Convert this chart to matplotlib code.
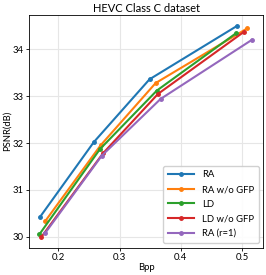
import matplotlib.pyplot as plt

plt.rcParams['font.family'] = ['Lato', 'DejaVu Sans']

# data
labels = ['RA', 'RA w/o GFP', 'LD', 'LD w/o GFP', 'RA (r=1)']
bpp_ra = [0.170, 0.258, 0.349, 0.492]
psnr_ra = [30.42, 32.02, 33.36, 34.50]
bpp_ra_nogfp = [0.179, 0.269, 0.359, 0.509]
psnr_ra_nogfp = [30.34, 31.95, 33.28, 34.45]
bpp_ld = [0.169, 0.268, 0.361, 0.490]
psnr_ld = [30.05, 31.87, 33.12, 34.34]
bpp_ld_nogfp = [0.172, 0.273, 0.363, 0.504]
psnr_ld_nogfp = [29.99, 31.78, 33.05, 34.38]
bpp_r1 = [0.178, 0.271, 0.367, 0.516]
psnr_r1 = [30.07, 31.73, 32.94, 34.20]

xs = [bpp_ra, bpp_ra_nogfp, bpp_ld, bpp_ld_nogfp, bpp_r1]
ys = [psnr_ra, psnr_ra_nogfp, psnr_ld, psnr_ld_nogfp, psnr_r1]
colors = ['#1f77b4', '#ff7f0e', '#2ca02c', '#d62728', '#9467bd']

fig = plt.figure(figsize=(2.66, 2.75), dpi=100)
ax = fig.add_axes([0.11, 0.10, 0.88, 0.845])

for x, y, c, lab in zip(xs, ys, colors, labels):
    ax.plot(x, y, '-o', color=c, lw=1.5, ms=2.5, label=lab)

ax.set_xlim(0.1525, 0.535)
ax.set_ylim(29.77, 34.73)
ax.set_xticks([0.2, 0.3, 0.4, 0.5])
ax.set_yticks([30, 31, 32, 33, 34])
ax.grid(True, color='#e6e6e6', lw=0.8)
ax.tick_params(labelsize=6.8, length=2.5, width=0.6, pad=1.5)
for s in ax.spines.values():
    s.set_linewidth(0.6)

ax.set_title('HEVC Class C dataset', fontsize=8, pad=2)
ax.set_xlabel('Bpp', fontsize=6.8, labelpad=1)
ax.set_ylabel('PSNR(dB)', fontsize=6.8, labelpad=1)
ax.legend(loc='lower right', fontsize=6.8, handlelength=2.8, borderpad=0.5,
          labelspacing=0.6, framealpha=0.9)

plt.savefig('out.png', dpi=100)
